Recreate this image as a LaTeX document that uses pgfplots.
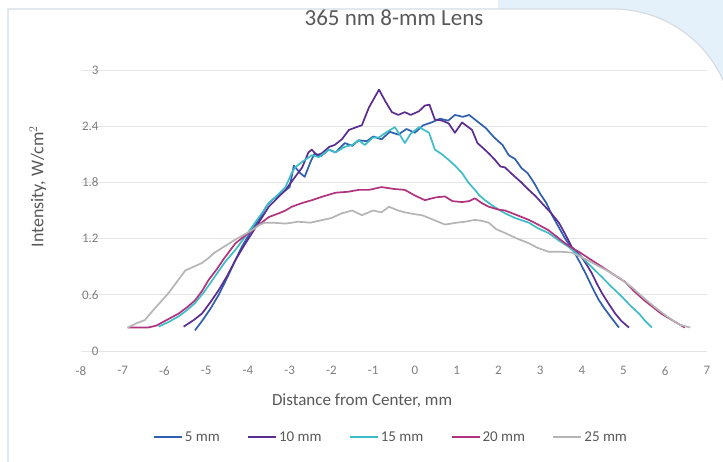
\documentclass[border=0pt]{standalone}
\usepackage{fontspec}
\setmainfont{Carlito}
\usepackage{pgfplots}
\pgfplotsset{compat=1.18}
\usetikzlibrary{backgrounds}

\definecolor{cfive}{HTML}{2F5FAE}
\definecolor{cten}{HTML}{5C2D91}
\definecolor{cfifteen}{HTML}{3EBDC8}
\definecolor{ctwenty}{HTML}{B0337F}
\definecolor{ctwentyfive}{HTML}{B5B5B5}
\definecolor{txtgray}{HTML}{595959}
\definecolor{tickgray}{HTML}{7F7F7F}
\definecolor{bluebg}{HTML}{E4F1FA}
\definecolor{cardline}{HTML}{D5DCE3}

\begin{document}
\begin{tikzpicture}
\begin{axis}[
  name=ax,
  scale only axis, width=626pt, height=281pt,
  xmin=-8, xmax=7, ymin=0, ymax=3,
  xtick={-8,...,7},
  ytick={0,0.6,1.2,1.8,2.4,3},
  ymajorgrids,
  grid style={draw=black!10, line width=0.8pt},
  axis line style={draw=none},
  major tick length=0pt,
  /pgf/number format/assume math mode=true,
  ticklabel style={font=\fontsize{13}{15}\selectfont, text=tickgray},
  xticklabel style={yshift=-12pt},
  yticklabel style={anchor=east, xshift=21pt},
  title={365 nm 8-mm Lens},
  title style={at={(axis description cs:0.5,1.165)}, anchor=center, font=\fontsize{23}{26}\selectfont, text=txtgray},
  xlabel={Distance from Center, mm},
  x label style={at={(axis description cs:0.449,-0.178)}, anchor=center, font=\fontsize{17}{20}\selectfont, text=txtgray},
  ylabel={Intensity, W/cm$^2$},
  y label style={at={(axis description cs:-0.069,0.585)}, anchor=center, font=\fontsize{18}{20}\selectfont, text=txtgray},
  legend columns=5,
  legend style={at={(axis description cs:0.495,-0.306)}, anchor=center, draw=none, fill=none,
    font=\fontsize{15}{17}\selectfont, text=txtgray,
    /tikz/every even column/.append style={column sep=25pt}},
  legend image code/.code={\draw[#1,line width=2.2pt] (0pt,0pt) -- (28pt,0pt);},
  every axis plot/.append style={line width=1.7pt, line join=round},
]
\addplot[cfive] coordinates {
(-5.27,0.22) (-5.1,0.32) (-4.9,0.45) (-4.7,0.6) (-4.5,0.78) (-4.3,0.97) (-4.15,1.11) (-3.95,1.26)
(-3.74,1.40) (-3.55,1.55) (-3.4,1.62) (-3.2,1.68) (-3.0,1.75) (-2.9,1.98) (-2.75,1.9) (-2.64,1.86)
(-2.5,2.02) (-2.4,2.11) (-2.25,2.08) (-2.06,2.15) (-1.9,2.12) (-1.68,2.22) (-1.5,2.19) (-1.35,2.25)
(-1.15,2.24) (-1.0,2.29) (-0.8,2.26) (-0.6,2.34) (-0.4,2.31) (-0.2,2.37) (0,2.33) (0.2,2.41)
(0.4,2.44) (0.6,2.48) (0.8,2.46) (0.96,2.52) (1.15,2.5) (1.3,2.52) (1.5,2.45) (1.7,2.38)
(1.9,2.28) (2.1,2.2) (2.25,2.09) (2.4,2.05) (2.56,1.95) (2.7,1.9) (2.85,1.8) (3.0,1.68)
(3.15,1.58) (3.3,1.44) (3.45,1.32) (3.6,1.2) (3.8,1.07) (3.95,0.95) (4.1,0.82) (4.25,0.68)
(4.4,0.55) (4.55,0.45) (4.7,0.36) (4.89,0.25)
};
\addplot[cten] coordinates {
(-5.54,0.26) (-5.3,0.33) (-5.1,0.40) (-4.9,0.52) (-4.7,0.65) (-4.5,0.8) (-4.3,0.97) (-4.1,1.12)
(-3.9,1.26) (-3.7,1.4) (-3.5,1.54) (-3.3,1.63) (-3.1,1.72) (-2.9,1.84) (-2.7,1.96) (-2.55,2.12)
(-2.47,2.15) (-2.35,2.09) (-2.23,2.11) (-2.05,2.18) (-1.92,2.2) (-1.75,2.26) (-1.58,2.36) (-1.4,2.39)
(-1.27,2.41) (-1.1,2.6) (-0.86,2.79) (-0.7,2.66) (-0.55,2.55) (-0.4,2.52) (-0.24,2.55) (-0.1,2.52)
(0.1,2.56) (0.24,2.62) (0.35,2.63) (0.48,2.47) (0.65,2.46) (0.81,2.43) (0.96,2.33) (1.13,2.44)
(1.25,2.4) (1.37,2.36) (1.5,2.22) (1.65,2.16) (1.77,2.11) (1.92,2.04) (2.05,1.97) (2.16,1.96)
(2.3,1.9) (2.4,1.86) (2.55,1.8) (2.73,1.72) (2.9,1.65) (3.04,1.58) (3.25,1.48) (3.45,1.37)
(3.6,1.25) (3.76,1.11) (3.9,1.05) (4.0,1.0) (4.12,0.92) (4.24,0.83) (4.36,0.72) (4.48,0.62)
(4.65,0.5) (4.8,0.4) (4.95,0.32) (5.13,0.25)
};
\addplot[cfifteen] coordinates {
(-6.14,0.26) (-5.9,0.31) (-5.66,0.37) (-5.45,0.44) (-5.27,0.51) (-5.05,0.63) (-4.8,0.79) (-4.55,0.95)
(-4.3,1.08) (-4.05,1.23) (-3.83,1.37) (-3.65,1.48) (-3.5,1.58) (-3.3,1.66) (-3.1,1.75) (-2.95,1.9)
(-2.87,1.96) (-2.7,2.02) (-2.47,2.09) (-2.3,2.07) (-2.06,2.15) (-1.9,2.12) (-1.68,2.18) (-1.5,2.2)
(-1.35,2.25) (-1.2,2.2) (-1.0,2.28) (-0.86,2.28) (-0.7,2.33) (-0.48,2.39) (-0.35,2.3) (-0.24,2.22)
(-0.1,2.32) (0.1,2.39) (0.22,2.36) (0.34,2.33) (0.48,2.15) (0.65,2.1) (0.81,2.04) (0.96,1.98)
(1.13,1.9) (1.28,1.8) (1.44,1.72) (1.55,1.66) (1.68,1.61) (1.9,1.54) (2.16,1.47) (2.4,1.42)
(2.73,1.37) (2.95,1.31) (3.2,1.26) (3.45,1.18) (3.69,1.11) (3.85,1.05) (4.0,1.0) (4.25,0.89)
(4.48,0.79) (4.7,0.69) (4.96,0.58) (5.15,0.49) (5.37,0.40) (5.5,0.33) (5.68,0.25)
};
\addplot[ctwenty] coordinates {
(-6.88,0.25) (-6.6,0.25) (-6.4,0.25) (-6.2,0.27) (-5.95,0.33) (-5.66,0.40) (-5.45,0.47) (-5.27,0.54)
(-5.1,0.64) (-4.94,0.76) (-4.75,0.87) (-4.6,0.97) (-4.45,1.06) (-4.3,1.15) (-4.1,1.22) (-3.9,1.29)
(-3.7,1.36) (-3.5,1.43) (-3.26,1.47) (-3.1,1.5) (-2.95,1.54) (-2.7,1.58) (-2.47,1.61) (-2.2,1.65)
(-1.9,1.69) (-1.6,1.7) (-1.35,1.72) (-1.1,1.72) (-0.8,1.75) (-0.5,1.73) (-0.24,1.72) (0,1.66)
(0.24,1.61) (0.5,1.64) (0.72,1.65) (0.9,1.6) (1.13,1.59) (1.3,1.6) (1.44,1.63) (1.6,1.58)
(1.77,1.54) (2.0,1.51) (2.16,1.5) (2.45,1.45) (2.73,1.4) (2.95,1.35) (3.2,1.29) (3.4,1.22)
(3.6,1.15) (3.8,1.09) (3.93,1.06) (4.2,0.98) (4.48,0.9) (4.75,0.82) (5.03,0.74) (5.25,0.64)
(5.5,0.54) (5.7,0.47) (5.9,0.40) (6.2,0.32) (6.47,0.25)
};
\addplot[ctwentyfive] coordinates {
(-6.88,0.25) (-6.65,0.3) (-6.47,0.33) (-6.3,0.42) (-6.1,0.52) (-5.9,0.62) (-5.7,0.74) (-5.5,0.86)
(-5.3,0.9) (-5.1,0.94) (-4.95,0.99) (-4.8,1.05) (-4.55,1.12) (-4.3,1.19) (-4.1,1.24) (-3.9,1.29)
(-3.75,1.34) (-3.6,1.37) (-3.4,1.37) (-3.1,1.36) (-2.8,1.38) (-2.5,1.37) (-2.2,1.4) (-2.0,1.42)
(-1.75,1.47) (-1.5,1.5) (-1.27,1.45) (-1.0,1.5) (-0.8,1.48) (-0.62,1.54) (-0.4,1.5) (-0.24,1.48)
(0,1.46) (0.17,1.45) (0.45,1.4) (0.72,1.35) (1.0,1.37) (1.2,1.38) (1.44,1.40) (1.6,1.39)
(1.77,1.37) (1.95,1.3) (2.16,1.26) (2.45,1.2) (2.73,1.15) (2.95,1.1) (3.2,1.06) (3.5,1.06)
(3.76,1.05) (4.0,1.0) (4.3,0.93) (4.6,0.86) (4.9,0.78) (5.2,0.68) (5.5,0.56) (5.8,0.45)
(6.1,0.35) (6.35,0.28) (6.6,0.25)
};
\legend{5 mm, 10 mm, 15 mm, 20 mm, 25 mm}
\end{axis}
% page and card behind the chart, placed from the axis box corner
\pgfresetboundingbox
\begin{scope}[shift={(ax.south west)}]
\begin{scope}[x=1pt, y=1pt, shift={(-81pt,-111pt)}]
\path[use as bounding box] (0,0) rectangle (723,462);
\begin{pgfonlayer}{background}
\fill[white] (0,0) rectangle (723,462);
\fill[bluebg] (498,462) rectangle (723,340);
\fill[white] (8,0) -- (8,453) -- (613,453) arc[start angle=90,end angle=24,radius=120.7pt] -- (723,0) -- cycle;
\draw[cardline, line width=1.2pt] (8,0) -- (8,453) -- (613,453) arc[start angle=90,end angle=24,radius=120.7pt];
\end{pgfonlayer}
\end{scope}
\end{scope}
\end{tikzpicture}
\end{document}
